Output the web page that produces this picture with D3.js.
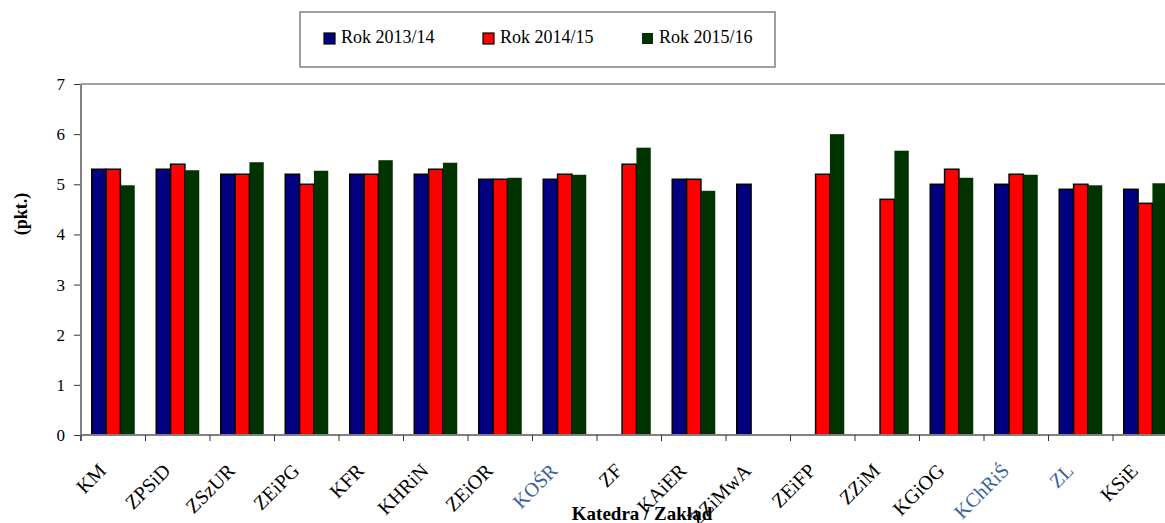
<!DOCTYPE html>
<html>
<head>
<meta charset="utf-8">
<script src="https://cdn.jsdelivr.net/npm/d3@7"></script>
<style>
  html, body { margin: 0; padding: 0; background: #fff; }
  svg { display: block; }
</style>
</head>
<body>
<svg id="chart" width="1165" height="523" font-family="Liberation Serif, Times New Roman, serif"></svg>
<script>
const categories = ["KM","ZPSiD","ZSzUR","ZEiPG","KFR","KHRiN","ZEiOR","KOŚR","ZF","KAiER","ZZiMwA","ZEiFP","ZZiM","KGiOG","KChRiŚ","ZL","KSiE"];
const seriesNames = ["Rok 2013/14","Rok 2014/15","Rok 2015/16"];
const values2013 = [5.3, 5.3, 5.2, 5.2, 5.2, 5.2, 5.1, 5.1, null, 5.1, 5.0, null, null, 5.0, 5.0, 4.9, 4.9];
const values2014 = [5.3, 5.4, 5.2, 5.0, 5.2, 5.3, 5.1, 5.2, 5.4, 5.1, null, 5.2, 4.7, 5.3, 5.2, 5.0, 4.62];
const values2015 = [4.98, 5.28, 5.44, 5.27, 5.48, 5.43, 5.13, 5.19, 5.73, 4.87, null, 6.0, 5.67, 5.13, 5.19, 4.98, 5.02];
const yTicks = [0,1,2,3,4,5,6,7];
const blueLabels = ["KOŚR","KChRiŚ","ZL"];

const FONT = "Liberation Serif";
const colors = ["#000080", "#FF0000", "#003300"];
const strokes = ["#000", "#000", "none"];
const series = [values2013, values2014, values2015];

const svg = d3.select("#chart");
const mLeft = 81, mTop = 84, mBottom = 435;
const step = 64.5;
const mRight = mLeft + step * categories.length;

const x0 = d3.scaleBand().domain(categories).range([mLeft, mRight]).paddingInner(1/3).paddingOuter(1/6);
const x1 = d3.scaleBand().domain(d3.range(3)).range([0, x0.bandwidth()]);
const y = d3.scaleLinear().domain([0, 7]).range([mBottom, mTop]);

// top border
svg.append("line").attr("x1", mLeft).attr("x2", mRight).attr("y1", mTop).attr("y2", mTop)
  .attr("stroke", "#808080").attr("stroke-width", 1.5);

// bars
categories.forEach((c, i) => {
  series.forEach((s, k) => {
    const v = s[i];
    if (v == null) return;
    svg.append("rect")
      .attr("x", x0(c) + x1(k))
      .attr("y", y(v))
      .attr("width", x1.bandwidth())
      .attr("height", y(0) - y(v))
      .attr("fill", colors[k])
      .attr("stroke", strokes[k])
      .attr("stroke-width", 1.5);
  });
});

// y axis
const yAxis = d3.axisLeft(y).tickValues(yTicks).tickSize(7).tickPadding(9).tickFormat(d3.format("d"));
const ga = svg.append("g").attr("transform", `translate(${mLeft},0)`).call(yAxis)
  .attr("font-family", FONT).attr("font-size", 17);
ga.select(".domain").remove();
ga.selectAll(".tick line").attr("stroke", "#333").attr("stroke-width", 1);
ga.selectAll(".tick text").attr("fill", "#000");
svg.append("line").attr("x1", mLeft).attr("x2", mLeft).attr("y1", mTop).attr("y2", mBottom + 6)
  .attr("stroke", "#808080").attr("stroke-width", 2);

// x axis baseline and ticks
svg.append("line").attr("x1", mLeft).attr("x2", mRight).attr("y1", mBottom).attr("y2", mBottom)
  .attr("stroke", "#808080").attr("stroke-width", 2);
svg.selectAll(".xtick").data(d3.range(categories.length + 1)).enter().append("line")
  .attr("x1", d => mLeft + d * x0.step()).attr("x2", d => mLeft + d * x0.step())
  .attr("y1", mBottom).attr("y2", mBottom + 6)
  .attr("stroke", "#333").attr("stroke-width", 1);

// x labels
svg.selectAll(".xlab").data(categories).enter().append("text")
  .attr("transform", d => `translate(${x0(d) + x0.bandwidth()/2 - 6},${mBottom + 37}) rotate(-45)`)
  .attr("text-anchor", "end")
  .attr("font-family", FONT)
  .attr("font-size", 20)
  .attr("fill", d => blueLabels.includes(d) ? "#3a639a" : "#000")
  .text(d => d);

// axis titles
svg.append("text").attr("x", 642).attr("y", 520).attr("text-anchor", "middle")
  .attr("font-family", FONT)
  .attr("font-size", 19).attr("font-weight", "bold").text("Katedra / Zakład");
svg.append("text").attr("transform", "translate(27,214) rotate(-90)").attr("text-anchor", "middle")
  .attr("font-family", FONT)
  .attr("font-size", 18).attr("font-weight", "bold").text("(pkt.)");

// legend
svg.append("rect").attr("x", 300).attr("y", 12).attr("width", 475).attr("height", 55)
  .attr("fill", "#fff").attr("stroke", "#808080").attr("stroke-width", 1.5);
const legX = [324, 483, 642];
seriesNames.forEach((n, k) => {
  svg.append("rect").attr("x", legX[k]).attr("y", 33).attr("width", 11).attr("height", 11)
    .attr("fill", colors[k]).attr("stroke", strokes[k]).attr("stroke-width", 1.2);
  svg.append("text").attr("x", legX[k] + 17).attr("y", 43)
    .attr("font-family", FONT).attr("font-size", 18).attr("fill", "#000").text(n);
});
</script>
</body>
</html>
